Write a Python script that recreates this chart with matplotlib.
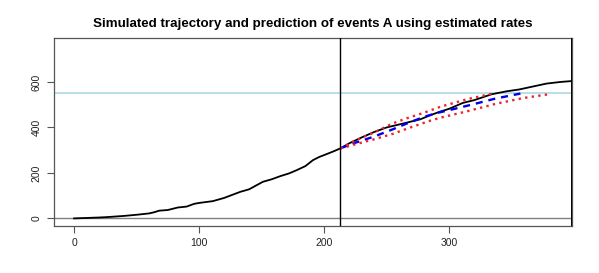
import matplotlib
matplotlib.use("Agg")
import matplotlib.pyplot as plt

# Observed trajectory (time, cumulative events)
traj_t = [0, 10, 20, 27, 40, 50, 60, 64, 68, 75, 83, 90, 96, 100, 111, 120, 133, 140,
          151, 158, 165, 172, 178, 185, 191, 196, 203, 208, 213, 220, 230, 240, 250,
          263, 277, 285, 293, 300, 311, 320, 334, 346, 356, 367, 378, 389, 398]
traj_n = [0, 2, 4, 6, 11, 16, 22, 27, 34, 37, 48, 52, 64, 68, 76, 90, 117, 128,
          161, 172, 186, 198, 212, 230, 256, 270, 285, 296, 308, 330, 356, 380, 400,
          417, 436, 454, 470, 482, 508, 520, 546, 559, 567, 580, 593, 600, 604]

# Predictions from the cut point
mean_t = [213, 225, 240, 255, 266, 280, 292, 300, 320, 337, 357]
mean_n = [308, 333, 360, 392, 417, 447, 466, 476, 503, 527, 549]
upper_t = [213, 225, 240, 255, 266, 280, 293, 300, 315, 334]
upper_n = [308, 343, 378, 418, 440, 465, 491, 502, 525, 548]
lower_t = [213, 225, 240, 255, 268, 285, 293, 300, 315, 338, 360, 381]
lower_n = [308, 326, 348, 372, 398, 430, 443, 452, 472, 505, 530, 547]

cut_time = 213
end_time = 398
target_level = 550

x_ticks = [0, 100, 200, 300]
y_ticks = [0, 200, 400, 600]
title = "Simulated trajectory and prediction of events A using estimated rates"

plt.rcParams['font.family'] = ['Liberation Sans', 'DejaVu Sans']

fig = plt.figure(figsize=(5.99, 2.73), dpi=100)
ax = fig.add_axes([0.0907, 0.1733, 0.9544 - 0.0907, 0.8597 - 0.1733])

ax.axhline(0, color='#808080', lw=1.0, zorder=1)
ax.axhline(target_level, color='#add8e6', lw=1.2, zorder=1)
ax.plot(traj_t, traj_n, color='black', lw=1.3, zorder=3)
ax.plot(mean_t, mean_n, color='#0000ee', lw=1.7, ls=(0, (3, 2.5)), zorder=4)
ax.plot(upper_t, upper_n, color='#e8262b', lw=1.7, ls=(0, (1, 1.8)), zorder=4)
ax.plot(lower_t, lower_n, color='#e8262b', lw=1.7, ls=(0, (1, 1.8)), zorder=4)
ax.axvline(cut_time, color='black', lw=1.0, zorder=5)
ax.axvline(end_time, color='black', lw=1.4, zorder=5)

ax.set_xlim(-15.8, 398)
ax.set_ylim(-32, 792)
ax.set_xticks(x_ticks)
ax.set_yticks(y_ticks)
ax.set_xticklabels([str(v) for v in x_ticks])
ax.set_yticklabels([str(v) for v in y_ticks], rotation=90, va='center')
ax.tick_params(axis='both', length=5, width=0.8, color='#555555',
               labelsize=7.5, labelcolor='#222222', pad=4)
for s in ax.spines.values():
    s.set_color('#555555')
    s.set_linewidth(0.9)

fig.suptitle(title, fontsize=9.6, fontweight='bold', x=0.522, y=0.935)

fig.savefig("out.png", dpi=100)
